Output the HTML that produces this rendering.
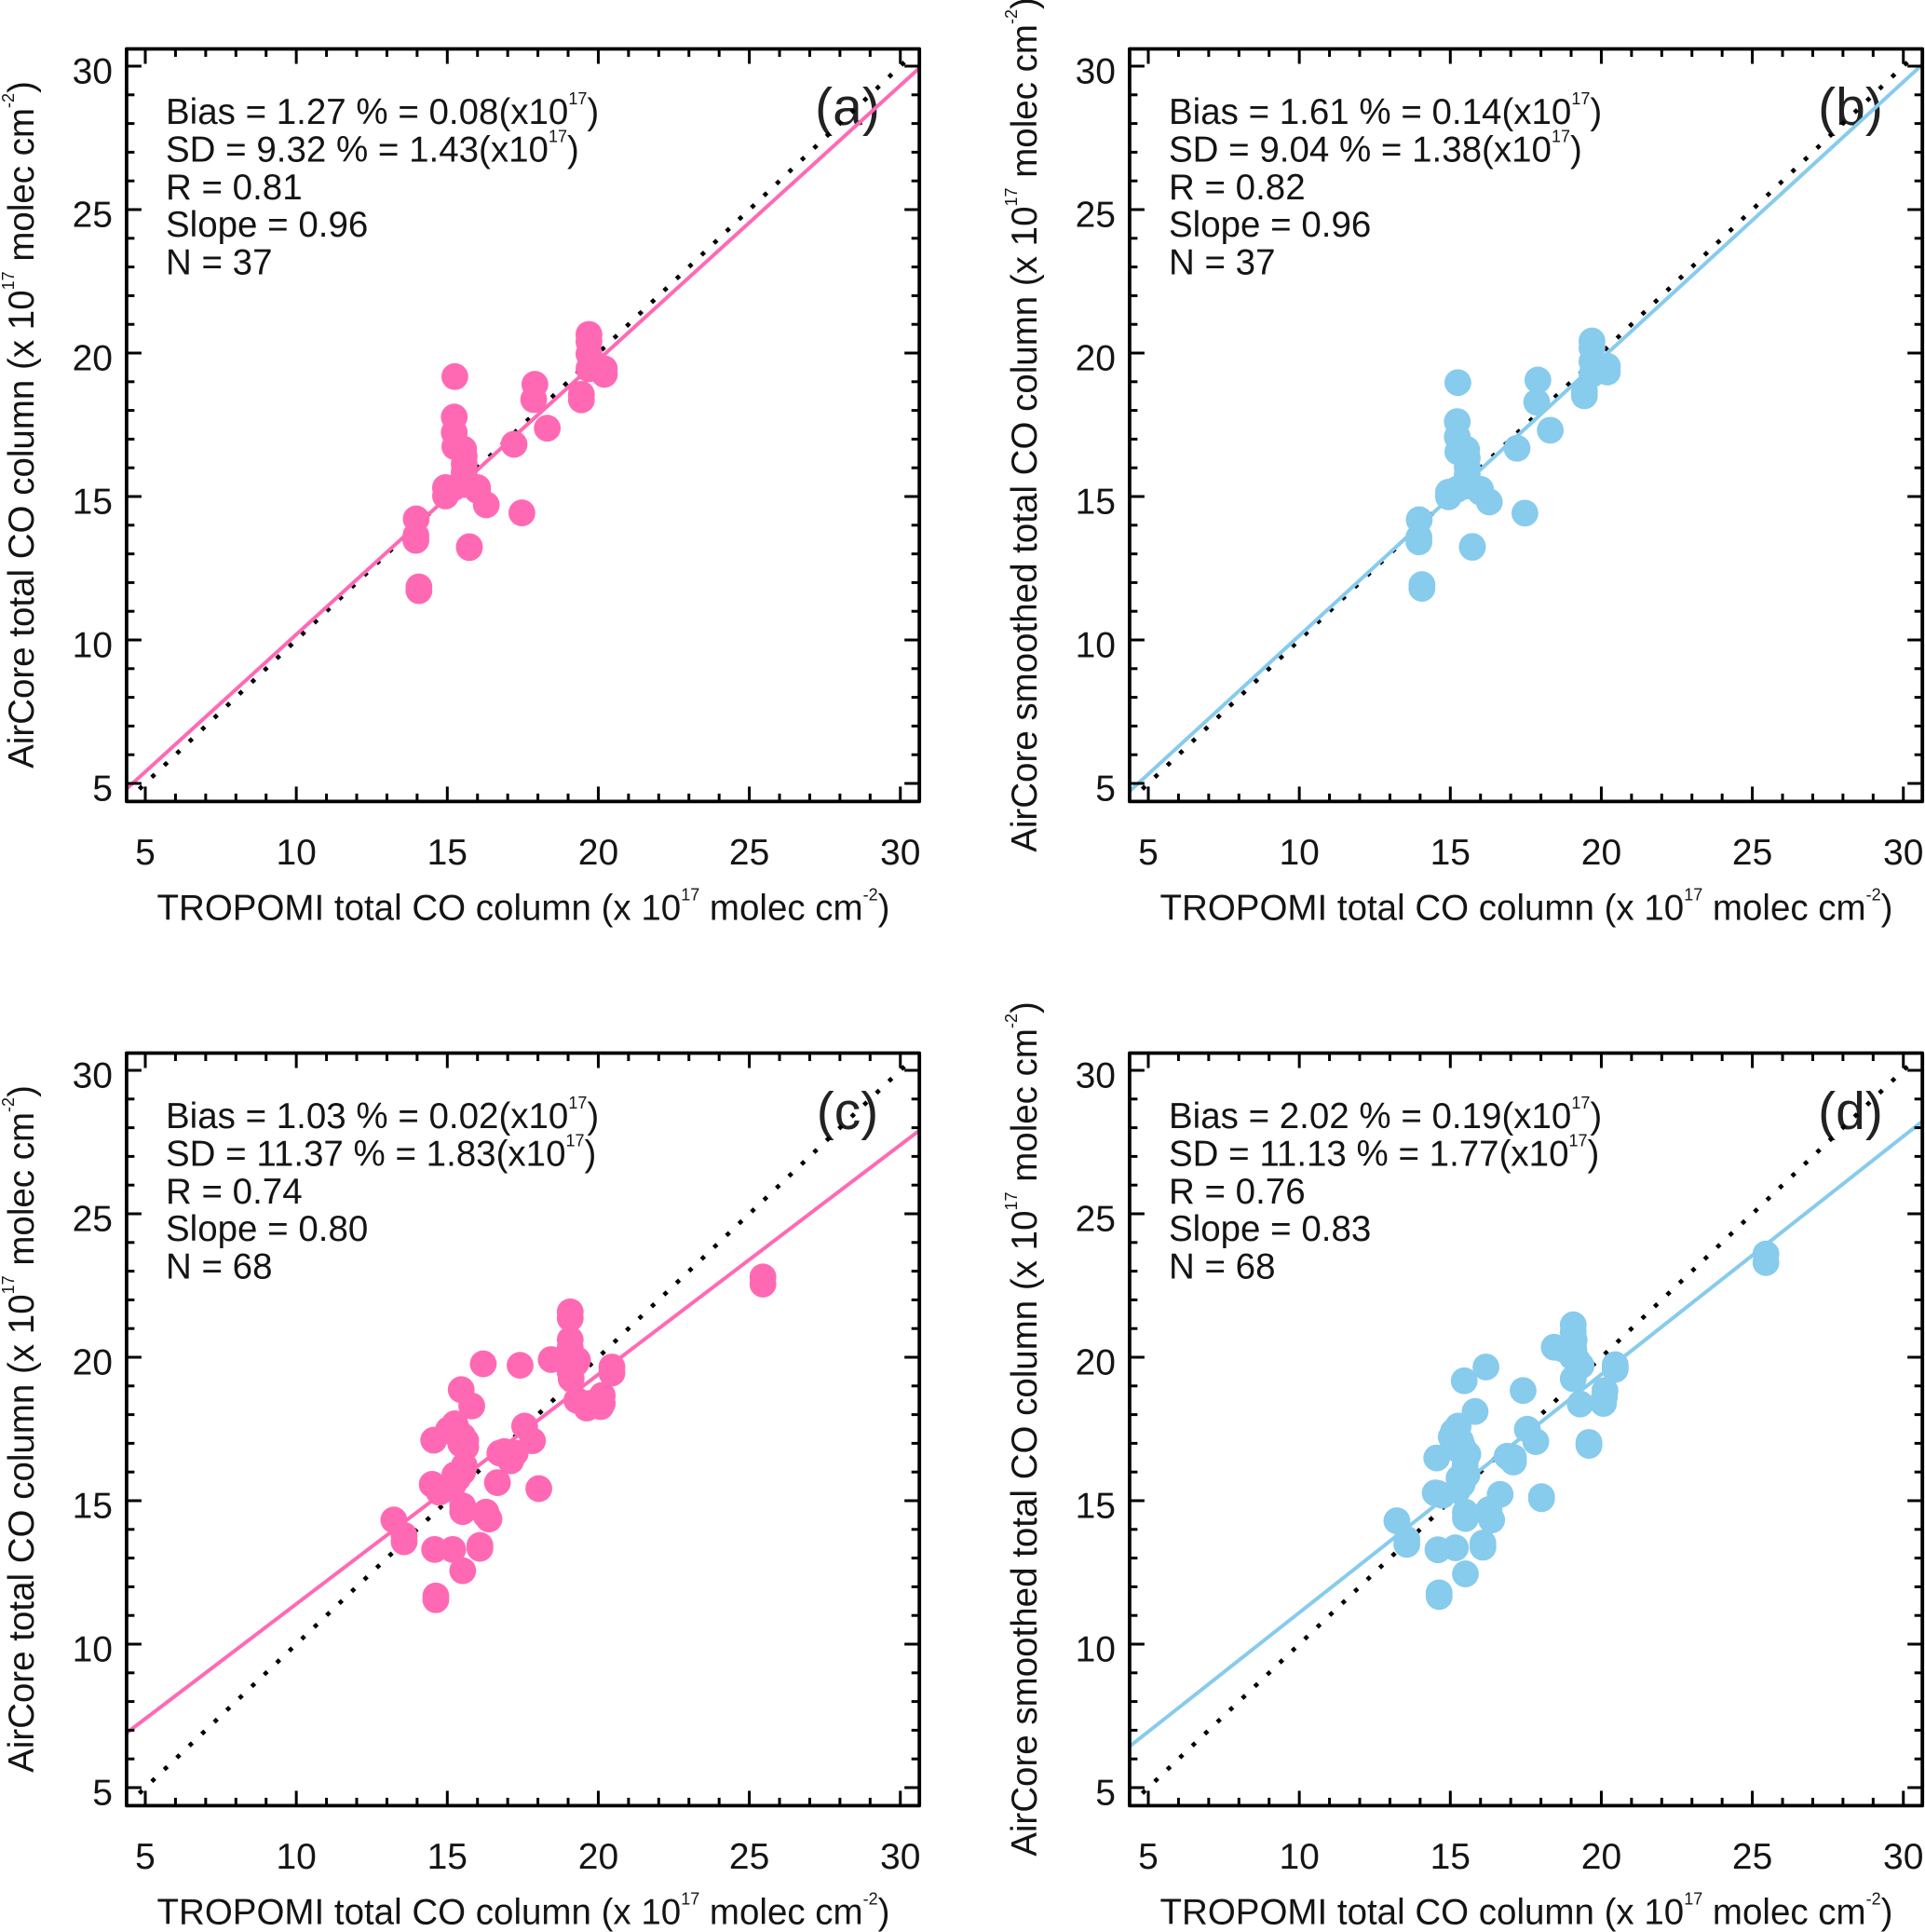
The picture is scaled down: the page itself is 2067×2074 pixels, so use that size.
<!DOCTYPE html>
<html lang="en">
<head>
<meta charset="utf-8">
<title>TROPOMI vs AirCore total CO column scatter plots</title>
<style>
html,body{margin:0;padding:0;background:#fff;}
svg{display:block;font-family:"Liberation Sans",Arial,sans-serif;fill:#141414;}
</style>
</head>
<body>
<svg id="chart" xmlns="http://www.w3.org/2000/svg" width="2067" height="2074" viewBox="0 0 2067 2074"></svg>
<script>
// ---- tick labels ----
const xTickValues = [5, 10, 15, 20, 25, 30];
const yTickValues = [5, 10, 15, 20, 25, 30];
const minorTickValues = [6, 7, 8, 9, 11, 12, 13, 14, 16, 17, 18, 19, 21, 22, 23, 24, 26, 27, 28, 29];
const axisDomainX = [4.38, 30.63];
const axisDomainY = [4.37, 30.6];

// ---- panel (a) ----
const panelAX = [19.69,19.69,19.69,19.69,20.20,20.20,19.44,19.44,17.90,17.86,18.31,17.21,15.25,15.23,15.23,15.25,15.54,15.56,15.56,15.56,15.56,15.56,14.94,14.94,15.22,16.00,16.00,16.29,17.47,15.73,15.73,13.97,13.96,13.96,14.06,14.06,15.56];
const panelAY = [20.65,20.40,19.97,19.45,19.45,19.26,18.56,18.37,18.91,18.38,17.38,16.82,19.18,17.77,17.23,16.74,16.65,16.40,16.13,15.86,15.64,15.42,15.31,15.02,15.31,15.31,15.21,14.71,14.43,13.25,13.22,14.22,13.64,13.47,11.85,11.72,15.50];
const panelAFit = [0.957, 0.62];
const panelAStats = [["Bias = 1.27 % = 0.08(x10","17",")"],["SD = 9.32 % = 1.43(x10","17",")"],["R = 0.81"],["Slope = 0.96"],["N = 37"]];

// ---- panel (b) ----
const panelBX = [19.69,19.69,19.69,19.69,20.20,20.20,19.44,19.44,17.90,17.86,18.31,17.21,15.25,15.23,15.23,15.25,15.54,15.56,15.56,15.56,15.56,15.56,14.94,14.94,15.22,16.00,16.00,16.29,17.47,15.73,15.73,13.97,13.96,13.96,14.06,14.06,15.56];
const panelBY = [20.42,20.18,19.70,19.26,19.54,19.34,18.67,18.51,19.06,18.29,17.31,16.68,18.97,17.61,17.08,16.56,16.64,16.34,16.02,15.75,15.53,15.37,15.15,14.99,15.25,15.25,15.15,14.81,14.42,13.26,13.23,14.19,13.58,13.42,11.93,11.80,15.60];
const panelBFit = [0.965, 0.5];
const panelBStats = [["Bias = 1.61 % = 0.14(x10","17",")"],["SD = 9.04 % = 1.38(x10","17",")"],["R = 0.82"],["Slope = 0.96"],["N = 37"]];

// ---- panel (c) ----
const panelCX = [19.07,19.07,19.07,19.07,18.44,19.31,19.07,19.07,19.07,16.19,17.41,20.45,20.45,20.13,20.08,19.62,19.29,19.51,19.72,20.03,15.46,15.81,17.56,17.82,15.25,15.04,14.55,15.51,15.61,15.45,15.30,16.89,17.10,17.05,15.51,15.25,14.50,14.73,15.20,16.66,18.03,15.51,15.51,16.28,16.38,16.28,13.23,13.57,13.57,14.58,15.18,15.51,16.08,16.08,14.62,14.62,25.45,25.45,15.35,14.99,15.56,15.61,19.10,15.30,20.13,17.25,19.26,16.74];
const panelCY = [21.58,21.36,20.61,20.34,19.92,19.90,19.47,19.69,19.90,19.77,19.72,19.66,19.45,18.67,18.28,18.23,18.50,18.39,18.39,18.50,18.87,18.30,17.60,17.09,17.68,17.47,17.11,17.25,16.87,16.98,17.30,16.71,16.39,16.66,16.01,15.90,15.57,15.30,15.57,15.63,15.42,14.82,14.62,14.60,14.36,14.49,14.33,13.79,13.57,13.30,13.30,12.56,13.44,13.34,11.68,11.55,22.80,22.55,15.79,15.41,16.22,17.09,19.25,17.52,18.39,16.66,19.79,16.66];
const panelCFit = [0.80, 3.4];
const panelCStats = [["Bias = 1.03 % = 0.02(x10","17",")"],["SD = 11.37 % = 1.83(x10","17",")"],["R = 0.74"],["Slope = 0.80"],["N = 68"]];

// ---- panel (d) ----
const panelDX = [19.07,19.07,18.44,19.09,19.04,19.33,19.07,20.46,20.46,20.12,20.07,19.30,16.18,15.46,17.41,15.82,15.26,15.03,15.34,15.58,14.55,15.29,17.55,17.83,19.59,19.59,16.88,17.09,17.09,15.49,15.29,15.49,14.50,14.74,15.24,16.65,16.28,16.37,18.02,18.02,15.50,15.50,13.56,13.56,13.23,14.59,15.17,16.08,16.08,15.50,14.63,14.63,25.45,25.45,15.39,15.55,15.40,15.50,15.10,19.20,19.10,18.70,20.10,20.46,17.00,19.59,14.60,16.30];
const panelDY = [21.13,20.88,20.35,20.28,20.01,19.71,19.25,19.74,19.58,18.84,18.39,18.37,19.66,19.18,18.84,18.11,17.60,17.22,17.09,16.62,16.49,16.76,17.49,17.06,17.03,16.93,16.55,16.51,16.35,15.95,15.79,16.22,15.27,15.19,15.36,15.22,14.69,14.33,15.14,15.07,14.60,14.38,13.48,13.65,14.30,13.29,13.36,13.52,13.38,12.45,11.79,11.66,23.60,23.30,15.57,15.90,16.90,16.40,17.40,19.90,20.60,20.30,18.60,19.66,16.45,16.98,15.25,14.50];
const panelDFit = [0.83, 2.8];
const panelDStats = [["Bias = 2.02 % = 0.19(x10","17",")"],["SD = 11.13 % = 1.77(x10","17",")"],["R = 0.76"],["Slope = 0.83"],["N = 68"]];

// ---- titles: odd entries are superscripts ----
const xTitleParts = ["TROPOMI total CO column (x 10","17"," molec cm","-2",")"];
const yTitlePartsPlain = ["AirCore total CO column (x 10","17"," molec cm","-2",")"];
const yTitlePartsSmoothed = ["AirCore smoothed total CO column (x 10","17"," molec cm","-2",")"];

const panels = [
  {id:"a", label:"(a)", xs:panelAX, ys:panelAY, fit:panelAFit, stats:panelAStats, yTitle:yTitlePartsPlain,    color:"#FF69B4", dx:0,    dy:0},
  {id:"b", label:"(b)", xs:panelBX, ys:panelBY, fit:panelBFit, stats:panelBStats, yTitle:yTitlePartsSmoothed, color:"#87CBED", dx:1077, dy:0},
  {id:"c", label:"(c)", xs:panelCX, ys:panelCY, fit:panelCFit, stats:panelCStats, yTitle:yTitlePartsPlain,    color:"#FF69B4", dx:0,    dy:1078},
  {id:"d", label:"(d)", xs:panelDX, ys:panelDY, fit:panelDFit, stats:panelDStats, yTitle:yTitlePartsSmoothed, color:"#87CBED", dx:1077, dy:1078}
];

const NS = "http://www.w3.org/2000/svg";
const svgRoot = document.getElementById("chart");

function make(tag, attrs, parent) {
  const el = document.createElementNS(NS, tag);
  for (const k in attrs) el.setAttribute(k, attrs[k]);
  parent.appendChild(el);
  return el;
}

function richText(textEl, parts, supSize, supRise) {
  parts.forEach(function (part, i) {
    const t = make("tspan", {}, textEl);
    if (i % 2 === 1) {
      t.setAttribute("font-size", supSize);
      t.setAttribute("dy", -supRise);
    } else if (i > 0) {
      t.setAttribute("dy", supRise);
    }
    t.setAttribute("xml:space", "preserve");
    t.textContent = part;
  });
}

panels.forEach(function (p) {
  const sx = function (v) { return 156 + p.dx + (v - 5) * 32.43; };
  const sy = function (v) { return 841 + p.dy - (v - 5) * 30.8; };
  const left = sx(axisDomainX[0]), right = sx(axisDomainX[1]);
  const top = sy(axisDomainY[1]), bottom = sy(axisDomainY[0]);

  const g = make("g", {}, svgRoot);
  
  

  // clip for series
  const clip = make("clipPath", {id: "clip-" + p.id}, g);
  make("rect", {x: left, y: top, width: right - left, height: bottom - top}, clip);

  // statistics
  const statsGroup = make("g", {"font-size": 38.5}, g);
  
  
  p.stats.forEach(function (parts, i) {
    const t = make("text", {x: 178 + p.dx, y: 133 + p.dy + i * 40.4}, statsGroup);
    
    
    richText(t, parts, 18, 21);
  });

  // panel letter
  const letter = make("text", {x: 910 + p.dx, y: 134 + p.dy, "font-size": 57, "text-anchor": "middle", fill: "#222"}, g);
  
  
  letter.textContent = p.label;

  // marks
  const series = make("g", {"clip-path": "url(#clip-" + p.id + ")"}, g);
  
  

  const identity = make("line", {
    x1: sx(4.8), y1: sy(4.8), x2: sx(30.3), y2: sy(30.3),
    stroke: "#000", "stroke-width": 4.6, "stroke-dasharray": "4.6 13.9"
  }, series);
  
  

  const fitY = function (x) { return p.fit[0] * x + p.fit[1]; };
  const fit = make("line", {
    x1: left, y1: sy(fitY(axisDomainX[0])), x2: right, y2: sy(fitY(axisDomainX[1])),
    stroke: p.color, "stroke-width": 4
  }, series);
  
  

  p.xs.forEach(function (xv, i) {
    const c = make("circle", {cx: sx(xv), cy: sy(p.ys[i]), r: 14.4, fill: p.color}, series);
    
    
  });

  // ticks
  const ticks = make("g", {stroke: "#000", "stroke-width": 3}, g);
  
  
  const tick = function (x1, y1, x2, y2) { make("line", {x1: x1, y1: y1, x2: x2, y2: y2}, ticks); };
  xTickValues.forEach(function (v) {
    tick(sx(v), bottom, sx(v), bottom - 16);
    tick(sx(v), top, sx(v), top + 16);
  });
  yTickValues.forEach(function (v) {
    tick(left, sy(v), left + 16, sy(v));
    tick(right, sy(v), right - 16, sy(v));
  });
  minorTickValues.forEach(function (v) {
    tick(sx(v), bottom, sx(v), bottom - 8.5);
    tick(sx(v), top, sx(v), top + 8.5);
    tick(left, sy(v), left + 8.5, sy(v));
    tick(right, sy(v), right - 8.5, sy(v));
  });

  // frame
  const frame = make("rect", {
    x: left, y: top, width: right - left, height: bottom - top,
    fill: "none", stroke: "#000", "stroke-width": 3.8, "stroke-linejoin": "round"
  }, g);
  
  

  // tick labels
  xTickValues.forEach(function (v) {
    const t = make("text", {x: sx(v), y: 928 + p.dy, "font-size": 39, "text-anchor": "middle"}, g);
    
    
    t.textContent = v;
  });
  yTickValues.forEach(function (v) {
    const t = make("text", {x: 121 + p.dx, y: sy(v) + 18.7, "font-size": 39, "text-anchor": "end"}, g);
    
    
    t.textContent = v;
  });

  // axis titles
  const xTitle = make("text", {x: 562 + p.dx, y: 987.5 + p.dy, "font-size": 38.5, "text-anchor": "middle"}, g);
  
  
  richText(xTitle, xTitleParts, 18, 21);

  const yx = 36 + p.dx, yy = 456 + p.dy;
  const yTitle = make("text", {
    x: yx, y: yy, "font-size": 38.5, "text-anchor": "middle",
    transform: "rotate(-90 " + yx + " " + yy + ")"
  }, g);
  
  
  richText(yTitle, p.yTitle, 18, 21);
});
</script>
</body>
</html>
